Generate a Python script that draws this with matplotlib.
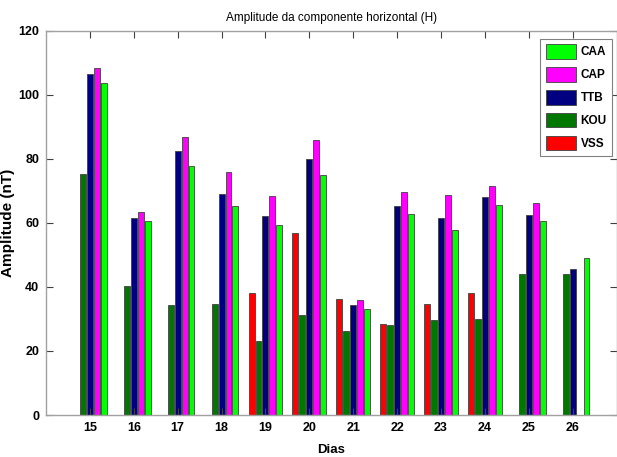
import matplotlib
matplotlib.use("Agg")
import matplotlib.pyplot as plt
import numpy as np

FONT = "Liberation Sans"

days = [15, 16, 17, 18, 19, 20, 21, 22, 23, 24, 25, 26]
VSS = [0, 0, 0, 0, 38.0, 56.7, 36.2, 28.5, 34.7, 38.2, 0, 0]
KOU = [75.1, 40.3, 34.3, 34.7, 23.1, 31.3, 26.1, 28.1, 29.7, 30.1, 44.1, 44.1]
TTB = [106.6, 61.4, 82.4, 68.9, 62.1, 80.0, 34.3, 65.3, 61.4, 68.0, 62.6, 45.7]
CAP = [108.5, 63.5, 86.7, 75.8, 68.3, 85.9, 36.0, 69.5, 68.8, 71.6, 66.3, 0]
CAA = [103.6, 60.5, 77.9, 65.3, 59.4, 74.9, 33.2, 62.8, 57.9, 65.6, 60.5, 49.1]

series = [("VSS", VSS, "#ff0000"), ("KOU", KOU, "#007800"), ("TTB", TTB, "#000080"),
          ("CAP", CAP, "#ff00ff"), ("CAA", CAA, "#00ff00")]

fig = plt.figure(figsize=(6.17, 4.57), dpi=100)
ax = fig.add_axes([46 / 617, 1 - 415 / 457, (616.5 - 46) / 617, (415 - 30.7) / 457])

x = np.array(days, dtype=float)
step = 0.158
width = 0.135
handles = {}
for i, (name, vals, col) in enumerate(series):
    off = (i - 2) * step
    b = ax.bar(x + off, vals, width=width, color=col, edgecolor="#404040", linewidth=0.6, label=name)
    handles[name] = b

ax.set_xlim(14, 27)
ax.set_ylim(0, 120)
ax.set_xticks(days)
ax.set_yticks(range(0, 121, 20))

tickfont = dict(family=FONT, weight="bold", size=9)
ax.set_xticklabels([str(d) for d in days], fontdict=tickfont)
ax.set_yticklabels([str(v) for v in range(0, 121, 20)], fontdict=tickfont)
ax.tick_params(axis="both", direction="in", length=5, width=0.8, color="#404040",
               top=True, right=True, pad=5)

for s in ax.spines.values():
    s.set_color("#a0a0a0")
    s.set_linewidth(1.0)

ax.set_title("Amplitude da componente horizontal (H)", fontdict=dict(family=FONT, size=8.5),
             pad=7)
ax.set_xlabel("Dias", fontdict=dict(family=FONT, weight="bold", size=9.5), labelpad=7)
ax.set_ylabel("Amplitude (nT)", fontdict=dict(family=FONT, weight="bold", size=11))
ax.yaxis.set_label_coords((15 - 46) / 570.5, 0.5)

order = ["CAA", "CAP", "TTB", "KOU", "VSS"]
leg = ax.legend([handles[n] for n in order], order, loc="upper right",
                prop=dict(family=FONT, weight="bold", size=8.5),
                fancybox=False, edgecolor="#808080", framealpha=1,
                handlelength=2.6, handleheight=1.5, labelspacing=0.72,
                handletextpad=0.35, borderpad=0.45, borderaxespad=0)
leg.get_frame().set_linewidth(0.8)
leg.set_bbox_to_anchor((612 / 617, 1 - 39 / 457), transform=fig.transFigure)

fig.savefig("out.png", dpi=100)
